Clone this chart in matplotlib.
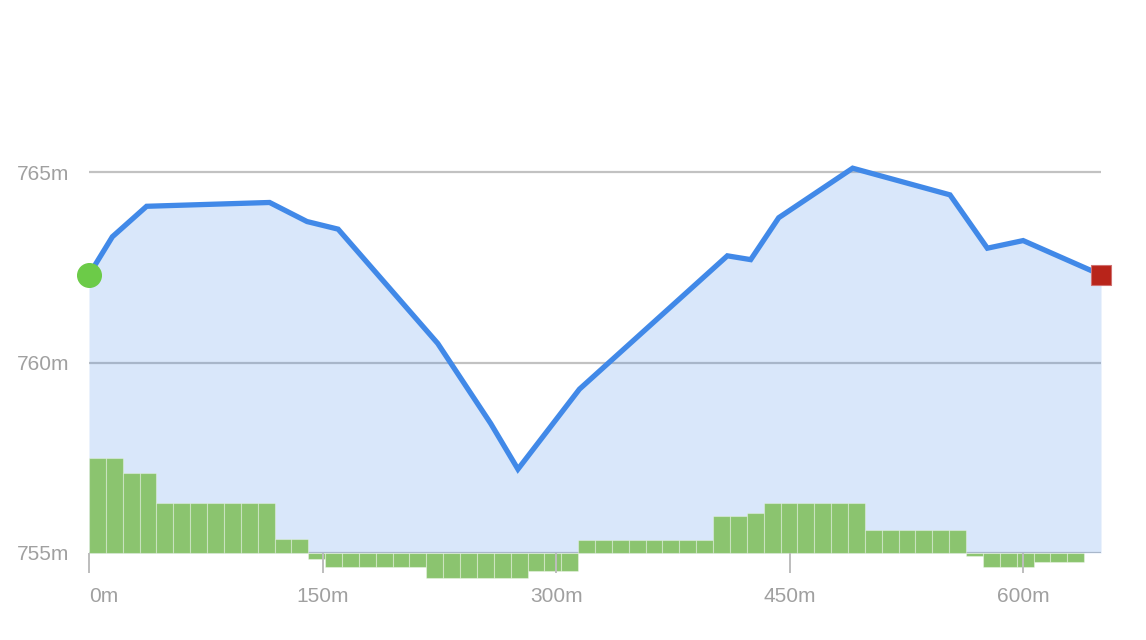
import matplotlib
matplotlib.use("Agg")
import matplotlib.pyplot as plt
import numpy as np

# Elevation profile (distance in m, elevation in m)
dist = [0, 15, 37, 116, 140, 160, 224, 258, 275.5, 315, 410, 425, 443, 490.5, 553, 577, 600, 650]
elev = [762.3, 763.3, 764.1, 764.2, 763.7, 763.5, 760.5, 758.4, 757.2, 759.3, 762.8, 762.7, 763.8, 765.1, 764.4, 763.0, 763.2, 762.3]

# Segment bars (relative to baseline 755)
bar_vals = ([2.49] * 2 + [2.1] * 2 + [1.31] * 7 + [0.36] * 2 + [-0.17] + [-0.38] * 6 +
            [-0.66] * 6 + [-0.46] * 3 + [0.34] * 8 + [0.97] * 2 + [1.06] + [1.31] * 6 +
            [0.6] * 6 + [-0.07] + [-0.38] * 3 + [-0.24] * 3 + [0.0])
total_len = 650
base = 755

yticks = [755, 760, 765]
ytick_labels = ["755m", "760m", "765m"]
xticks = [0, 150, 300, 450, 600]
xtick_labels = ["0m", "150m", "300m", "450m", "600m"]

plt.rcParams['font.family'] = ['Liberation Sans', 'DejaVu Sans']

fig = plt.figure(figsize=(11.46, 6.4), dpi=100)
ax = fig.add_axes([89 / 1146, 87 / 640, 1012 / 1146, 513 / 640])
ax.set_xlim(0, total_len)
ax.set_ylim(base, 765 + (172 - 40) / 38.1)

# gridlines
for yv in yticks:
    ax.axhline(yv, color="#c2c2c2", lw=1.6, zorder=1)

# area fill
ax.fill_between(dist, elev, base, color="#4189E8", alpha=0.2, lw=0, zorder=2)

# bars
n = len(bar_vals)
bw = total_len / n
bx = np.arange(n) * bw
ax.bar(bx, bar_vals, width=bw, bottom=base, align="edge", color="#8BC46F",
       edgecolor=(1, 1, 1, 0.35), linewidth=0.8, zorder=3, clip_on=False)

# line
ax.plot(dist, elev, color="#4189E8", lw=3.8, solid_joinstyle="miter", zorder=4,
        solid_capstyle="butt")
ax.plot(dist[0], elev[0], "o", ms=17, color="#6CCB48", mec="#6CCB48", zorder=5, clip_on=False)
ax.plot(dist[-1], elev[-1], "s", ms=14.5, color="#B8241A", mec="#D07070", mew=0.8, zorder=5, clip_on=False)

for s in ax.spines.values():
    s.set_visible(False)

ax.set_yticks(yticks)
ax.set_yticklabels(ytick_labels)
ax.tick_params(axis="y", length=0, pad=14, labelsize=15, labelcolor="#a0a0a0")

ax.set_xticks(xticks)
ax.set_xticklabels(xtick_labels)
ax.tick_params(axis="x", direction="out", length=14.5, width=1.4, color="#bdbdbd",
               pad=10, labelsize=15, labelcolor="#a0a0a0")
for t in ax.xaxis.get_major_ticks():
    t.tick1line.set_zorder(6)
ax.xaxis.set_zorder(6)
lbls = ax.get_xticklabels()
lbls[0].set_ha("left")
lbls[0].set_x(-3)

fig.savefig("out.png", dpi=100)
